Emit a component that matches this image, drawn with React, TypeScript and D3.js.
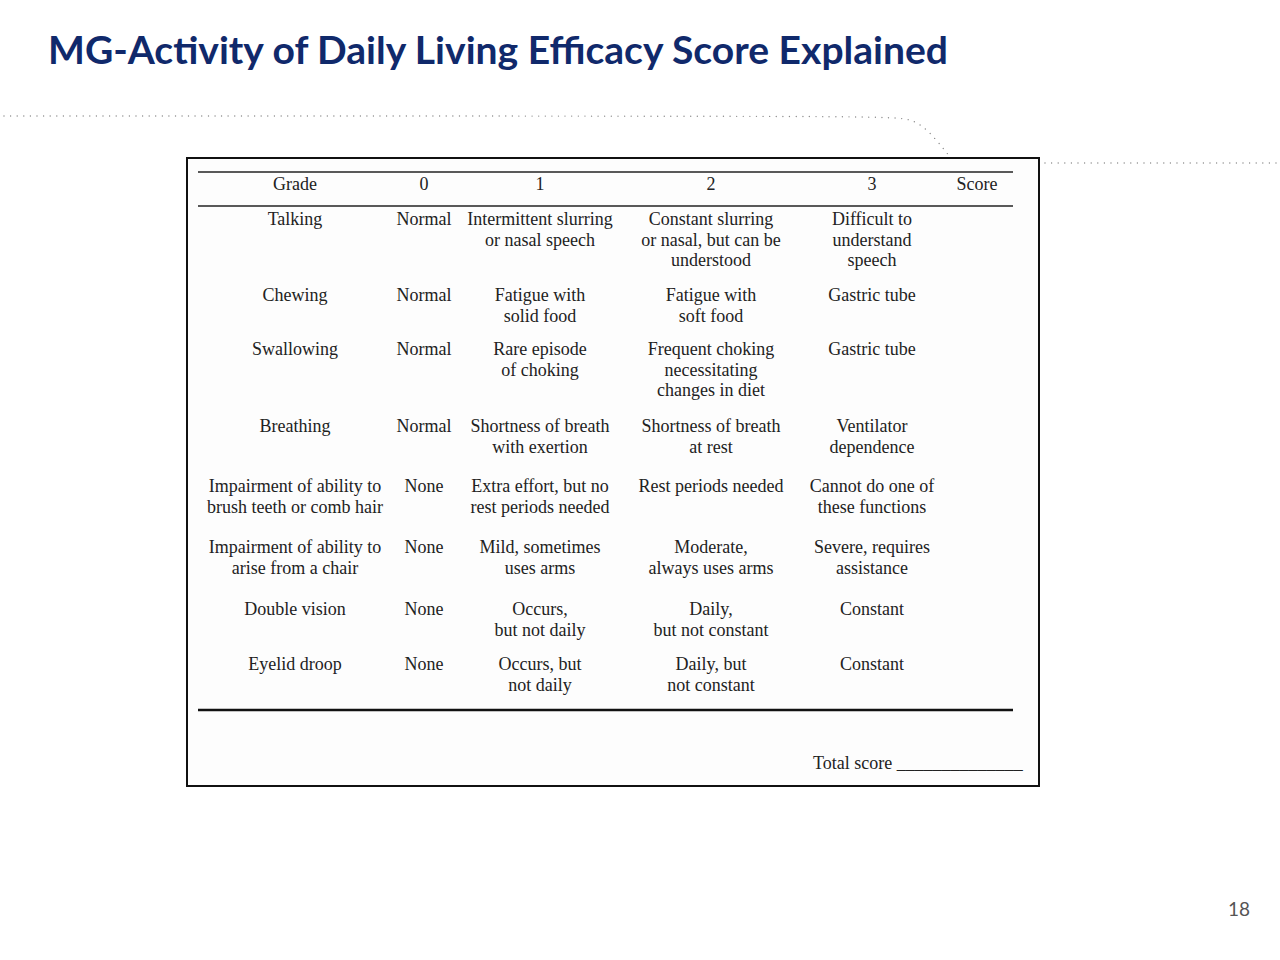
import React from 'react';
import * as d3 from 'd3';

// data
const title = 'MG-Activity of Daily Living Efficacy Score Explained';
const headers = ['Grade', '0', '1', '2', '3', 'Score'];
const items = [
  ['Talking'],
  ['Chewing'],
  ['Swallowing'],
  ['Breathing'],
  ['Impairment of ability to', 'brush teeth or comb hair'],
  ['Impairment of ability to', 'arise from a chair'],
  ['Double vision'],
  ['Eyelid droop'],
];
const grade0 = ['Normal', 'Normal', 'Normal', 'Normal', 'None', 'None', 'None', 'None'].map((d) => [d]);
const grade1 = [
  ['Intermittent slurring', 'or nasal speech'],
  ['Fatigue with', 'solid food'],
  ['Rare episode', 'of choking'],
  ['Shortness of breath', 'with exertion'],
  ['Extra effort, but no', 'rest periods needed'],
  ['Mild, sometimes', 'uses arms'],
  ['Occurs,', 'but not daily'],
  ['Occurs, but', 'not daily'],
];
const grade2 = [
  ['Constant slurring', 'or nasal, but can be', 'understood'],
  ['Fatigue with', 'soft food'],
  ['Frequent choking', 'necessitating', 'changes in diet'],
  ['Shortness of breath', 'at rest'],
  ['Rest periods needed'],
  ['Moderate,', 'always uses arms'],
  ['Daily,', 'but not constant'],
  ['Daily, but', 'not constant'],
];
const grade3 = [
  ['Difficult to', 'understand', 'speech'],
  ['Gastric tube'],
  ['Gastric tube'],
  ['Ventilator', 'dependence'],
  ['Cannot do one of', 'these functions'],
  ['Severe, requires', 'assistance'],
  ['Constant'],
  ['Constant'],
];
const pageNumber = '18';

// spacing after each row (the scanned form is uneven)
const rowGaps = [14.5, 13, 15.5, 19, 20, 21, 14, 0];

const serif = '"Liberation Serif", "Times New Roman", serif';
const sans = 'Lato, "Open Sans", sans-serif';

export default function App() {
  const width = 1280;
  const height = 960;
  const box = { x0: 187, x1: 1039, y0: 158, y1: 786 };
  const rule = { x0: 198, x1: 1013 };

  const colX = d3.scaleOrdinal<string, number>().domain(headers).range([295, 424, 540, 711, 872, 977]);
  const columns = [items, grade0, grade1, grade2, grade3];

  // row layout: cumulative by line count
  const lineH = 20.5;
  const rowLines = items.map((_, i) => d3.max(columns, (c) => c[i].length) as number);
  const rowTop: number[] = [];
  let y = 225;
  rowLines.forEach((n, i) => {
    rowTop.push(y);
    y += n * lineH + rowGaps[i];
  });

  const dotted = d3.line().curve(d3.curveBasis)([
    [4, 116],
    [880, 116],
    [915, 118],
    [935, 138],
    [950, 157],
  ]);

  return (
    <div style={{ position: 'absolute', left: 0, top: 0, width, height, background: '#fff' }}>
      <svg width={width} height={height} style={{ display: 'block' }}>
        <text
          x={48}
          y={64}
          fontFamily={sans}
          fontWeight={700}
          fontSize={38}
          fill="#10296b"
          textLength={900}
          lengthAdjust="spacingAndGlyphs"
        >
          {title}
        </text>
        <path d={dotted ?? ''} fill="none" stroke="#8a8a8a" strokeWidth={1.4} strokeLinecap="round" strokeDasharray="0 6.6" />
        <line x1={1045} x2={1280} y1={163} y2={163} stroke="#8a8a8a" strokeWidth={1.4} strokeLinecap="round" strokeDasharray="0 6.6" />

        <rect x={box.x0} y={box.y0} width={box.x1 - box.x0} height={box.y1 - box.y0} fill="#fdfdfd" stroke="#111" strokeWidth={2} />
        <line x1={rule.x0} x2={rule.x1} y1={172} y2={172} stroke="#222" strokeWidth={1.5} />
        <line x1={rule.x0} x2={rule.x1} y1={206} y2={206} stroke="#222" strokeWidth={1.5} />
        <line x1={rule.x0} x2={rule.x1} y1={710} y2={710} stroke="#111" strokeWidth={2.5} />

        <g fontFamily={serif} fontSize={18} fill="#222" textAnchor="middle">
          {headers.map((h) => (
            <text key={h} x={colX(h)} y={190}>
              {h}
            </text>
          ))}
          {columns.map((col, ci) =>
            col.map((cell, ri) => (
              <text key={`${ci}-${ri}`} x={colX(headers[ci])} y={rowTop[ri]}>
                {cell.map((line, li) => (
                  <tspan key={li} x={colX(headers[ci])} y={rowTop[ri] + li * lineH}>
                    {line}
                  </tspan>
                ))}
              </text>
            ))
          )}
          <text x={813} y={769} textAnchor="start">
            Total score ______________
          </text>
        </g>

        <text x={1250} y={916} textAnchor="end" fontFamily={sans} fontSize={19} fill="#555">
          {pageNumber}
        </text>
      </svg>
    </div>
  );
}
